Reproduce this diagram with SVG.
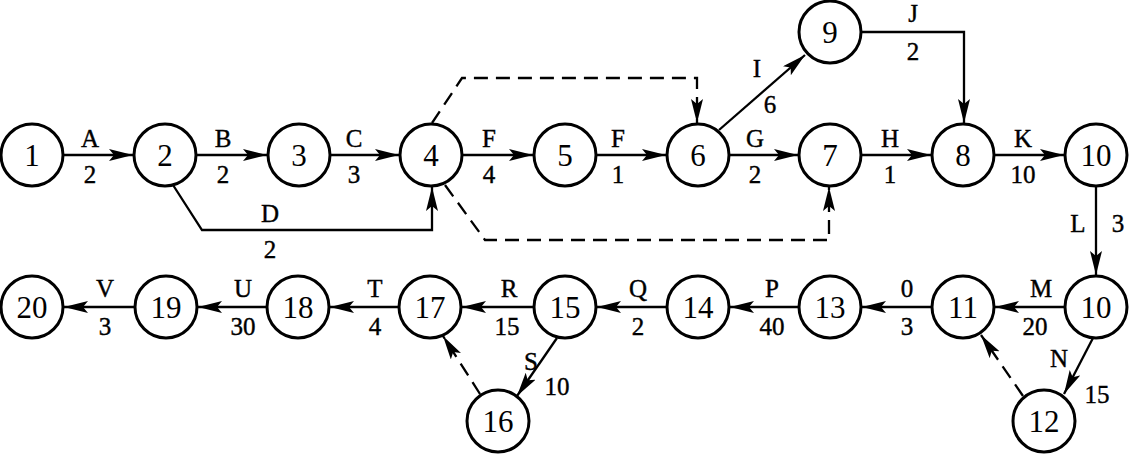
<svg xmlns="http://www.w3.org/2000/svg" width="1129" height="455" viewBox="0 0 1129 455">
<defs>
<style>
circle{fill:#fff;stroke:#000;stroke-width:3}
.dash{stroke-dasharray:14 8}
</style>
<marker id="ah" markerUnits="userSpaceOnUse" markerWidth="26" markerHeight="14" refX="24" refY="6" orient="auto">
<path d="M0,0 L24,6 L0,12 L5,6 z" fill="#000" stroke="none"/>
</marker>
</defs>
<rect width="1129" height="455" fill="#fff"/>
<g id="connectors" fill="none" stroke="#000" stroke-width="2.3" marker-end="url(#ah)">
<path d="M64,155 L133,155"/>
<path d="M197,155 L267,155"/>
<path d="M331,155 L399,155"/>
<path d="M463,155 L533,155"/>
<path d="M597,155 L666,155"/>
<path d="M730,155 L798,155"/>
<path d="M862,155 L931,155"/>
<path d="M995,155 L1064,155"/>
<path d="M173,185 L202,230 L432,230 L432,187"/>
<path class="dash" d="M432,123 L462,78 L697,78 L697,123"/>
<path class="dash" d="M445,185 L485,240 L829,240 L829,187"/>
<path d="M719,130 L805,55"/>
<path d="M862,32 L964,32 L964,123"/>
<path d="M1096,187 L1096,275"/>
<path d="M1064,307 L995,307"/>
<path d="M931,307 L862,307"/>
<path d="M798,307 L730,307"/>
<path d="M666,307 L597,307"/>
<path d="M533,307 L462,307"/>
<path d="M398,307 L330,307"/>
<path d="M266,307 L198,307"/>
<path d="M134,307 L64,307"/>
<path d="M1093,338 L1064,394"/>
<path d="M557,338 L517,396"/>
<path class="dash" d="M1023,396 L981,335"/>
<path class="dash" d="M480,394 L443,336"/>
</g>
<g id="labels" font-family="'Liberation Serif', serif" font-size="25" text-anchor="middle" fill="#000" stroke="#000" stroke-width="0.4">
<text x="90" y="147">A</text><text x="90" y="183">2</text>
<text x="223" y="147">B</text><text x="223" y="183">2</text>
<text x="354" y="147">C</text><text x="354" y="183">3</text>
<text x="489" y="147">F</text><text x="489" y="183">4</text>
<text x="618" y="147">F</text><text x="618" y="183">1</text>
<text x="755" y="147">G</text><text x="755" y="183">2</text>
<text x="890" y="147">H</text><text x="890" y="183">1</text>
<text x="1023" y="147">K</text><text x="1023" y="183">10</text>
<text x="270" y="222">D</text><text x="270" y="258">2</text>
<text x="757" y="77">I</text><text x="770" y="113">6</text>
<text x="913" y="22">J</text><text x="913" y="60">2</text>
<text x="1078" y="232">L</text><text x="1118" y="232">3</text>
<text x="105" y="297">V</text><text x="105" y="335">3</text>
<text x="243" y="297">U</text><text x="243" y="335">30</text>
<text x="375" y="297">T</text><text x="375" y="335">4</text>
<text x="509" y="297">R</text><text x="507" y="335">15</text>
<text x="638" y="297">Q</text><text x="638" y="335">2</text>
<text x="772" y="297">P</text><text x="772" y="335">40</text>
<text x="907" y="297">0</text><text x="907" y="335">3</text>
<text x="1041" y="297">M</text><text x="1035" y="335">20</text>
<text x="531" y="370">S</text><text x="557" y="395">10</text>
<text x="1059" y="367">N</text><text x="1097" y="403">15</text>
</g>
<g id="nodes" font-family="'Liberation Serif', serif" font-size="31" text-anchor="middle" fill="#000">
<g id="n1"><circle cx="32" cy="155" r="31"/><text x="32" y="166">1</text></g>
<g id="n2"><circle cx="165" cy="155" r="31"/><text x="165" y="166">2</text></g>
<g id="n3"><circle cx="299" cy="155" r="31"/><text x="299" y="166">3</text></g>
<g id="n4"><circle cx="431" cy="155" r="31"/><text x="431" y="166">4</text></g>
<g id="n5"><circle cx="565" cy="155" r="31"/><text x="565" y="166">5</text></g>
<g id="n6"><circle cx="698" cy="155" r="31"/><text x="698" y="166">6</text></g>
<g id="n7"><circle cx="830" cy="155" r="31"/><text x="830" y="166">7</text></g>
<g id="n8"><circle cx="963" cy="155" r="31"/><text x="963" y="166">8</text></g>
<g id="n9"><circle cx="830" cy="32" r="31"/><text x="830" y="43">9</text></g>
<g id="n10a"><circle cx="1096" cy="155" r="31"/><text x="1096" y="166">10</text></g>
<g id="n10b"><circle cx="1096" cy="307" r="31"/><text x="1096" y="318">10</text></g>
<g id="n11"><circle cx="963" cy="307" r="31"/><text x="963" y="318">11</text></g>
<g id="n12"><circle cx="1044" cy="421" r="31"/><text x="1044" y="432">12</text></g>
<g id="n13"><circle cx="830" cy="307" r="31"/><text x="830" y="318">13</text></g>
<g id="n14"><circle cx="698" cy="307" r="31"/><text x="698" y="318">14</text></g>
<g id="n15"><circle cx="565" cy="307" r="31"/><text x="565" y="318">15</text></g>
<g id="n16"><circle cx="498" cy="421" r="31"/><text x="498" y="432">16</text></g>
<g id="n17"><circle cx="430" cy="307" r="31"/><text x="430" y="318">17</text></g>
<g id="n18"><circle cx="298" cy="307" r="31"/><text x="298" y="318">18</text></g>
<g id="n19"><circle cx="166" cy="307" r="31"/><text x="166" y="318">19</text></g>
<g id="n20"><circle cx="32" cy="307" r="31"/><text x="32" y="318">20</text></g>
</g>
</svg>
